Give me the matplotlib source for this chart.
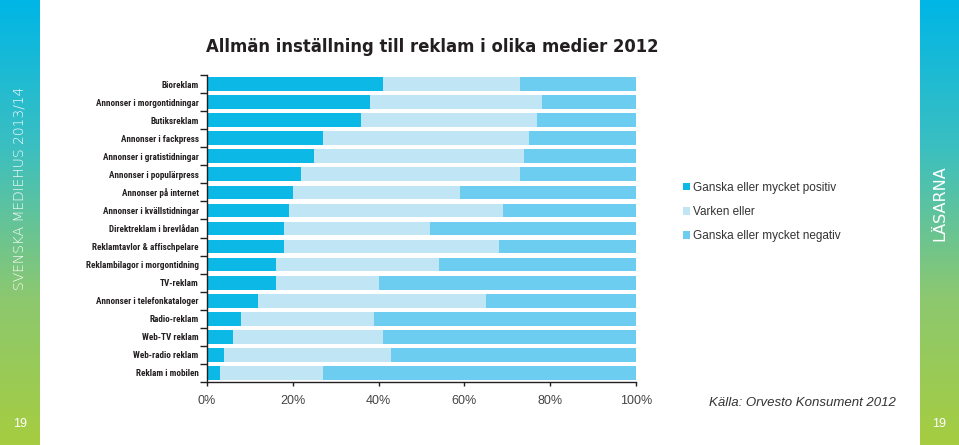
import numpy as np
import matplotlib
matplotlib.use("Agg")
import matplotlib.pyplot as plt
from matplotlib.colors import LinearSegmentedColormap
from matplotlib.ticker import FixedLocator, FuncFormatter
from matplotlib import font_manager

CATEGORIES = ["Bioreklam", "Annonser i morgontidningar", "Butiksreklam",
              "Annonser i fackpress", "Annonser i gratistidningar",
              "Annonser i populärpress", "Annonser på internet",
              "Annonser i kvällstidningar", "Direktreklam i brevlådan",
              "Reklamtavlor & affischpelare", "Reklambilagor i morgontidning",
              "TV-reklam", "Annonser i telefonkataloger", "Radio-reklam",
              "Web-TV reklam", "Web-radio reklam", "Reklam i mobilen"]
POSITIVE = [41, 38, 36, 27, 25, 22, 20, 19, 18, 18, 16, 16, 12, 8, 6, 4, 3]
NEUTRAL = [32, 40, 41, 48, 49, 51, 39, 50, 34, 50, 38, 24, 53, 31, 35, 39, 24]
NEGATIVE = [100 - p - n for p, n in zip(POSITIVE, NEUTRAL)]
SERIES = ["Ganska eller mycket positiv", "Varken eller", "Ganska eller mycket negativ"]
COLORS = ["#0cb8e6", "#c0e6f6", "#6dcdf0"]
XTICKS = [0, 20, 40, 60, 80, 100]

plt.rcParams["font.family"] = ["Liberation Sans", "DejaVu Sans"]

# narrow bold face for the category labels, if one is installed
names = {f.name for f in font_manager.fontManager.ttflist}
LABEL_FAMILY = "DejaVu Sans"
for cand in ["Roboto Condensed", "Liberation Sans Narrow", "DejaVu Sans Condensed"]:
    if cand in names:
        LABEL_FAMILY = cand
        break

W, H = 959, 445
fig = plt.figure(figsize=(W / 100, H / 100), dpi=100)

# side strips with cyan -> green gradient
grad = LinearSegmentedColormap.from_list("side", ["#00b6e6", "#3cbfc0", "#8cc870", "#a6cd40"])
for x0, x1 in [(0, 40), (920, 959)]:
    sax = fig.add_axes([x0 / W, 0, (x1 - x0) / W, 1])
    sax.imshow(np.linspace(0, 1, 256).reshape(-1, 1), aspect="auto", cmap=grad,
               extent=[0, 1, 0, 1], origin="upper")
    sax.set_axis_off()
fig.text(20 / W, 1 - 188 / H, "SVENSKA MEDIEHUS 2013/14", rotation=90, color="white",
         fontsize=10, ha="center", va="center", family="DejaVu Sans", fontweight="light")
fig.text(940 / W, 1 - 203 / H, "LÄSARNA", rotation=90, color="white",
         fontsize=11.5, ha="center", va="center", family="DejaVu Sans")
fig.text(20 / W, 1 - 424 / H, "19", color="white", fontsize=9, ha="center", va="center")
fig.text(939 / W, 1 - 424 / H, "19", color="white", fontsize=9, ha="center", va="center")

ax = fig.add_axes([207 / W, 1 - 382 / H, 429 / W, 307 / H])
y = np.arange(len(CATEGORIES))
left = np.zeros(len(CATEGORIES))
for vals, col, lab in zip([POSITIVE, NEUTRAL, NEGATIVE], COLORS, SERIES):
    ax.barh(y, vals, left=left, height=0.76, color=col, label=lab, linewidth=0)
    left += np.array(vals)

ax.set_xlim(0, 100)
ax.set_ylim(len(CATEGORIES) - 0.5, -0.5)
ax.set_yticks(y)
lab_size = 6.3 if LABEL_FAMILY == "DejaVu Sans" else 6.6
ax.set_yticklabels(CATEGORIES, fontsize=lab_size, fontweight="bold", color="#231f20",
                   family=LABEL_FAMILY)
ax.yaxis.set_minor_locator(FixedLocator(np.arange(-0.5, len(CATEGORIES), 1.0)))
ax.tick_params(axis="y", which="major", length=0, pad=6)
ax.tick_params(axis="y", which="minor", length=5, width=1, color="#231f20")
ax.set_xticks(XTICKS)
ax.xaxis.set_major_formatter(FuncFormatter(lambda v, p: f"{v:.0f}%"))
ax.tick_params(axis="x", length=3, width=1, color="#231f20", labelsize=9,
               labelcolor="#444444", pad=6)
for s in ["top", "right"]:
    ax.spines[s].set_visible(False)
for s in ["left", "bottom"]:
    ax.spines[s].set_color("#231f20")
    ax.spines[s].set_linewidth(1)

ax.legend(loc="center left", bbox_to_anchor=(672 / W, 1 - 212 / H), bbox_transform=fig.transFigure,
          frameon=False, fontsize=8.5, handlelength=0.6, handleheight=0.6, handletextpad=0.3,
          labelspacing=1.05, labelcolor="#333333")

fig.text(432 / W, 1 - 47 / H, "Allmän inställning till reklam i olika medier 2012",
         fontsize=11.9, fontweight="bold", color="#231f20", ha="center", va="center",
         family="DejaVu Sans")
fig.text(802 / W, 1 - 403 / H, "Källa: Orvesto Konsument 2012", fontsize=9.5,
         style="italic", color="#333333", ha="center", va="center")

fig.savefig("out.png", dpi=100)
